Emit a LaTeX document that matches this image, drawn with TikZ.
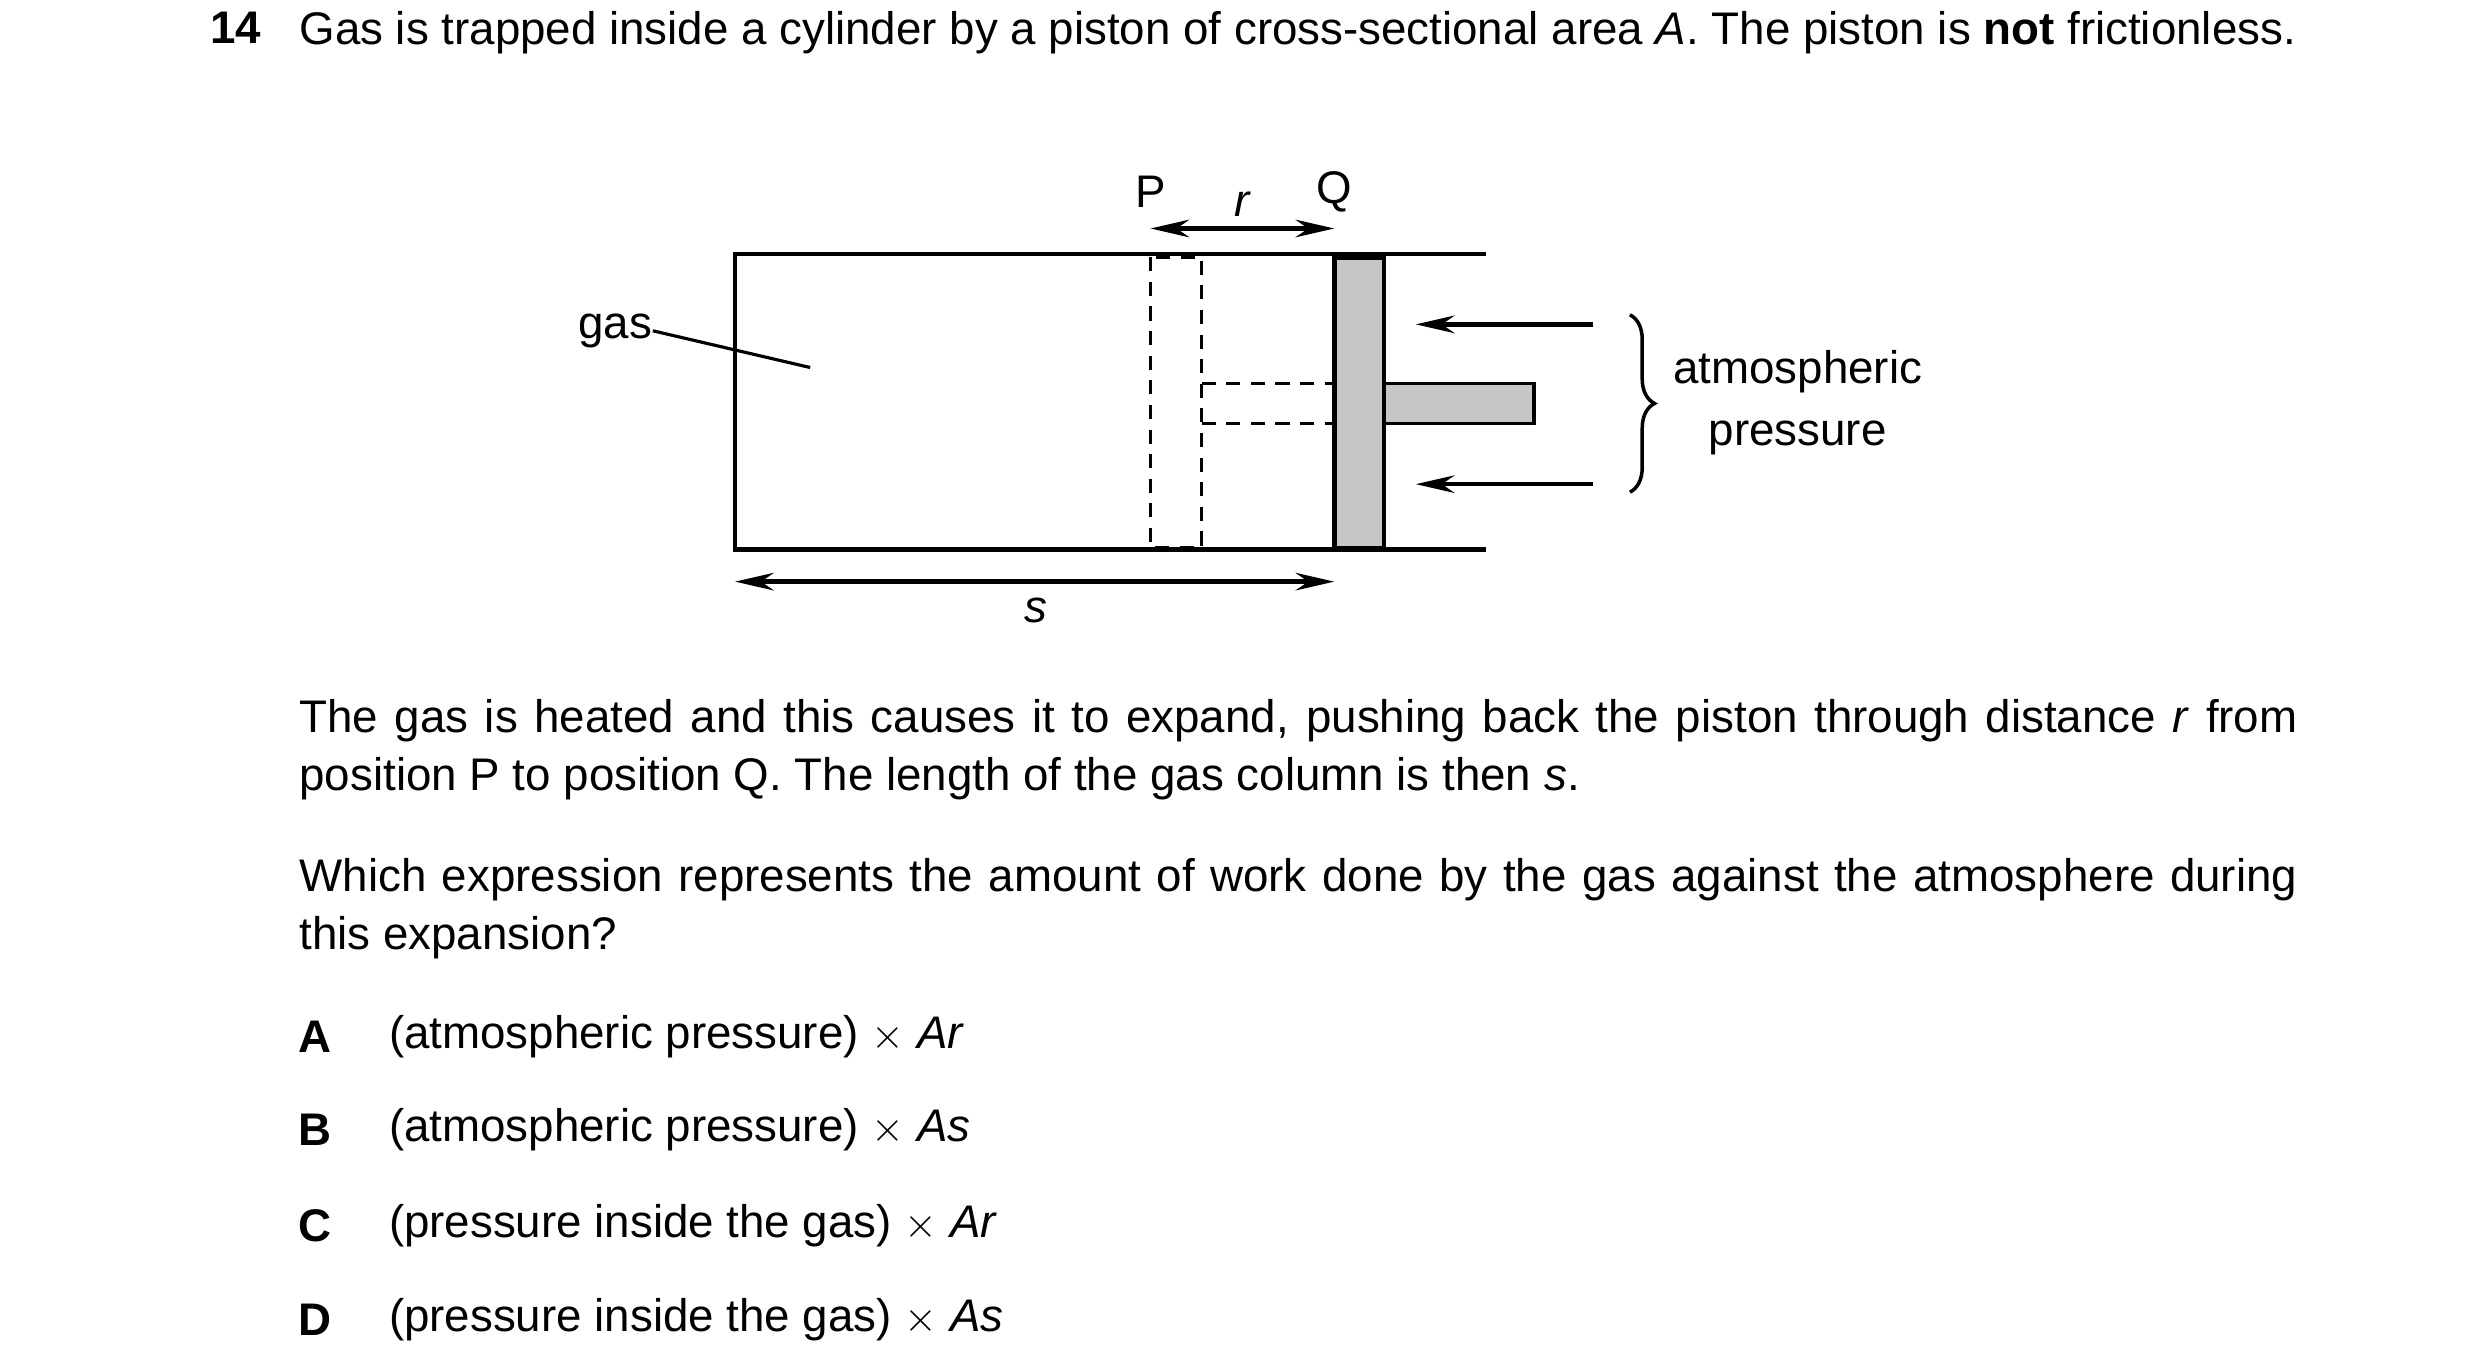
\documentclass[tikz,border=0pt]{standalone}
\usepackage{fontspec}
\setmainfont{Liberation Sans}
\usetikzlibrary{arrows.meta,decorations.pathreplacing}
\begin{document}
\begin{tikzpicture}[x=0.01598cm,y=-0.01598cm,
  every node/.style={font=\fontsize{13}{16.5}\selectfont,inner sep=0pt},
  para/.style={anchor=north west,text width=19.975cm,align=justify},
  ln/.style={line width=1.3pt},
  arr/.style={line width=1.3pt,-{Stealth[length=11pt,width=5pt]}},
  darr/.style={line width=1.3pt,{Stealth[length=11pt,width=5pt]}-{Stealth[length=11pt,width=5pt]}},
  dsh/.style={line width=1pt,dash pattern=on 4pt off 3pt}]
\useasboundingbox (0,0) rectangle (1552,858);
% question header
\node[anchor=north west,font=\fontsize{13}{16.5}\selectfont\bfseries] (num) at (131,7) {14};
\node[para] (q) at (187,7) {Gas is trapped inside a cylinder by a piston of cross-sectional area \textit{A}. The piston is \textbf{not} frictionless.};
% cylinder
\coordinate (tl) at (460,159); \coordinate (tr) at (930,159);
\coordinate (bl) at (460,344); \coordinate (br) at (930,344);
\draw[ln] (tr) -- (tl) -- (bl) -- (br);
% dashed piston P
\draw[dsh] (720,161) rectangle (752,343);
\draw[dsh] (752,240) -- (835,240);
\draw[dsh] (752,265) -- (835,265);
% piston Q
\draw[ln,fill=gray!45] (835,161) rectangle (866,343);
\draw[line width=1pt,fill=gray!45] (866,240) rectangle (960,265);
% atmosphere arrows
\coordinate (a1s) at (997,203); \coordinate (a1e) at (886,203);
\coordinate (a2s) at (997,303); \coordinate (a2e) at (886,303);
\draw[arr] (a1s) -- (a1e);
\draw[arr] (a2s) -- (a2e);
\draw[line width=1pt,decorate,decoration={brace,amplitude=7pt}] (1020,197) -- (1020,308);
\node[align=center] (atm) at (1125,252) {atmospheric\\[1pt]pressure};
% gas label
\node (gas) at (385,207) {gas};
\coordinate (gp) at (507,230);
\draw[line width=0.9pt] (gas.east) -- (gp);
% P, Q, r
\node (P) at (720,120) {P};
\node (Q) at (835,120) {Q};
\node (r) at (778,128) {\textit{r}};
\coordinate (rP) at (720,143); \coordinate (rQ) at (835,143);
\draw[darr] (rP) -- (rQ);
% s
\coordinate (sL) at (460,364); \coordinate (sR) at (835,364);
\draw[darr] (sL) -- (sR);
\node (s) at (648,382) {\textit{s}};
% paragraphs
\node[para] (p1) at (187,437) {The gas is heated and this causes it to expand, pushing back the piston through distance \textit{r} from position P to position Q. The length of the gas column is then \textit{s}.};
\node[para] (p2) at (187,537) {Which expression represents the amount of work done by the gas against the atmosphere during this expansion?};
% options
\node[font=\fontsize{13}{16.5}\selectfont\bfseries] (A) at (197,649) {A};
\node[anchor=west] (At) at (243,649) {(atmospheric pressure) $\times$ \textit{Ar}};
\node[font=\fontsize{13}{16.5}\selectfont\bfseries] (B) at (197,707) {B};
\node[anchor=west] (Bt) at (243,707) {(atmospheric pressure) $\times$ \textit{As}};
\node[font=\fontsize{13}{16.5}\selectfont\bfseries] (C) at (197,767) {C};
\node[anchor=west] (Ct) at (243,767) {(pressure inside the gas) $\times$ \textit{Ar}};
\node[font=\fontsize{13}{16.5}\selectfont\bfseries] (D) at (197,826) {D};
\node[anchor=west] (Dt) at (243,826) {(pressure inside the gas) $\times$ \textit{As}};
\end{tikzpicture}
\end{document}
